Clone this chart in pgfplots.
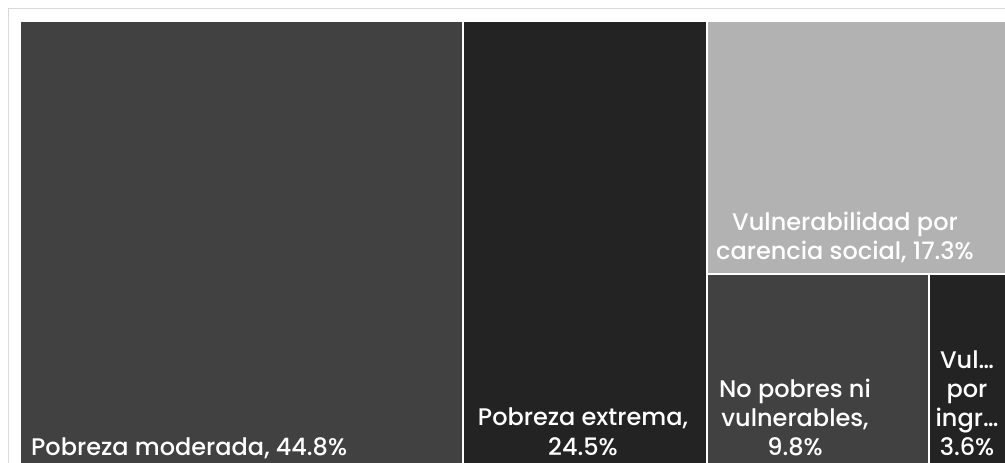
\documentclass[border=0pt]{standalone}
\usepackage{pgfplots}
\pgfplotsset{compat=1.18}
\usepackage{fontspec}
\setmainfont{Poppins}[UprightFont=* Medium]
\definecolor{cmod}{HTML}{414141}
\definecolor{cext}{HTML}{232323}
\definecolor{cvul}{HTML}{B2B2B2}
\definecolor{cframe}{HTML}{D9D9D9}
\tikzset{lab/.style={text=white, font=\fontsize{24}{28}\selectfont, inner sep=0pt}}
\begin{document}
\begin{tikzpicture}
\begin{axis}[
  width=1005pt, height=463pt, scale only axis,
  xmin=0, xmax=1005, ymin=0, ymax=463, y dir=reverse,
  hide axis, clip=true,
]
% background
\addplot[fill=white, draw=none] coordinates {(0,0) (1005,0) (1005,463) (0,463)};
% outer frame
\addplot[draw=cframe, line width=1.5pt] coordinates {(8.5,470) (8.5,8.5) (1010,8.5)};
% treemap tiles (shares: 44.8, 24.5, 17.3, 9.8, 3.6)
\addplot[fill=cmod, draw=none] coordinates {(21,22) (462,22) (462,470) (21,470)};
\addplot[fill=cext, draw=none] coordinates {(464,22) (705.5,22) (705.5,470) (464,470)};
\addplot[fill=cvul, draw=none] coordinates {(708,22) (1010,22) (1010,272.5) (708,272.5)};
\addplot[fill=cmod, draw=none] coordinates {(708,275) (927.5,275) (927.5,470) (708,470)};
\addplot[fill=cext, draw=none] coordinates {(930,275) (1010,275) (1010,470) (930,470)};
% labels
\node[lab, anchor=base west] at (axis cs:31,455) {Pobreza moderada, 44.8\%};
\node[lab, anchor=base] at (axis cs:583,425.5) {Pobreza extrema,};
\node[lab, anchor=base] at (axis cs:583,455) {24.5\%};
\node[lab, anchor=base] at (axis cs:845,230) {Vulnerabilidad por};
\node[lab, anchor=base] at (axis cs:845,259) {carencia social, 17.3\%};
\node[lab, anchor=base] at (axis cs:795,397) {No pobres ni};
\node[lab, anchor=base] at (axis cs:795,426) {vulnerables,};
\node[lab, anchor=base] at (axis cs:795,455) {9.8\%};
\node[lab, anchor=base] at (axis cs:967,368) {Vul…};
\node[lab, anchor=base] at (axis cs:967,397) {por};
\node[lab, anchor=base] at (axis cs:967,426) {ingr…};
\node[lab, anchor=base] at (axis cs:967,455) {3.6\%};
\end{axis}
\end{tikzpicture}
\end{document}
